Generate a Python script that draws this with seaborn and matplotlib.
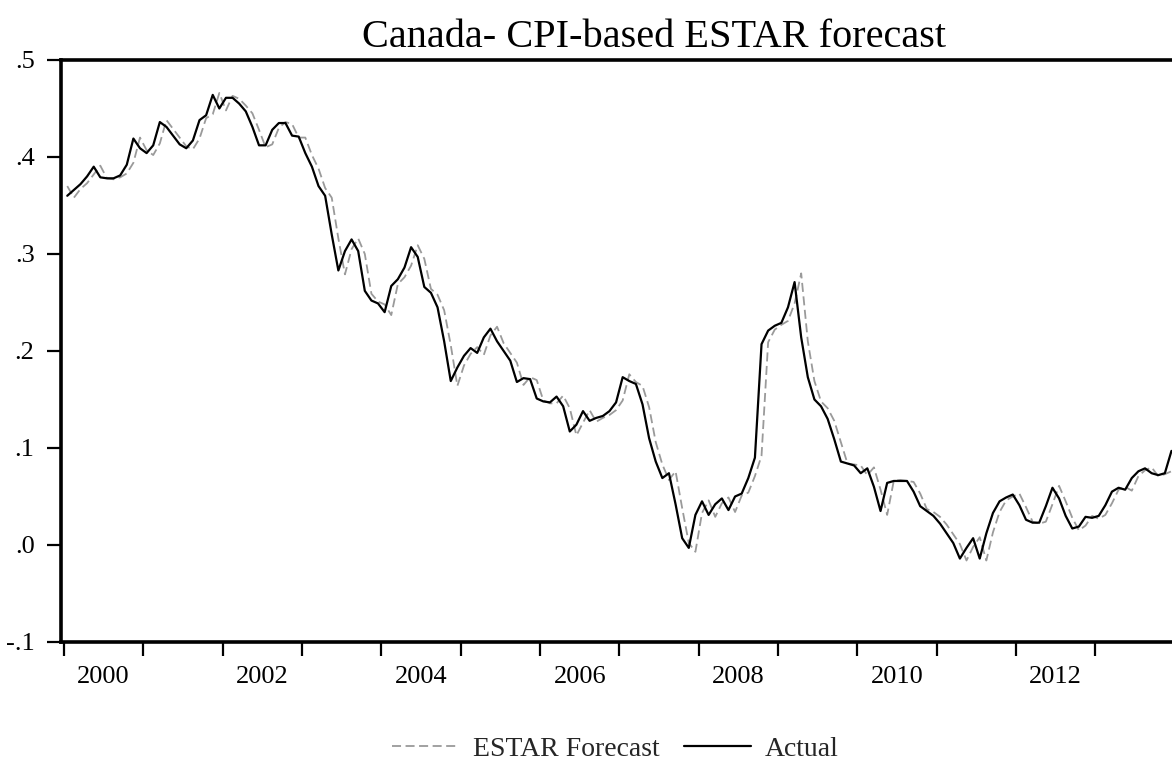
import numpy as np
import pandas as pd
import matplotlib
matplotlib.use("Agg")
import matplotlib.pyplot as plt
import seaborn as sns
from matplotlib.lines import Line2D

# Monthly values, Jan 2000 - Dec 2013
actual = [
    .360, .366, .372, .380, .390, .379, .378, .378, .381, .392, .419, .409,
    .404, .412, .436, .431, .422, .413, .409, .417, .438, .443, .464, .450,
    .461, .461, .455, .447, .431, .412, .412, .428, .435, .435, .422, .421,
    .404, .390, .370, .360, .320, .283, .303, .315, .303, .262, .252, .249,
    .240, .267, .274, .286, .307, .297, .266, .260, .245, .210, .169, .183,
    .195, .203, .198, .214, .223, .210, .200, .190, .168, .172, .171, .151,
    .148, .147, .153, .143, .117, .124, .138, .128, .131, .133, .138, .147,
    .173, .169, .166, .145, .110, .086, .069, .074, .042, .007, -.003, .031,
    .045, .031, .042, .048, .036, .050, .053, .069, .090, .207, .221, .226,
    .229, .245, .271, .214, .173, .150, .143, .130, .109, .086, .084, .082,
    .074, .079, .060, .035, .064, .066, .066, .066, .055, .040, .035, .030,
    .022, .012, .002, -.014, -.003, .007, -.014, .012, .033, .045, .049, .052,
    .041, .026, .023, .023, .040, .059, .048, .030, .017, .019, .029, .028,
    .030, .041, .055, .059, .057, .069, .076, .079, .074, .072, .074, .097,
]

estar_forecast = [
    .370, .358, .367, .373, .382, .391, .378, .377, .379, .383, .394, .420,
    .407, .402, .414, .438, .429, .420, .411, .408, .419, .440, .444, .466,
    .448, .463, .460, .453, .445, .428, .410, .413, .430, .436, .434, .420,
    .420, .402, .388, .368, .358, .316, .279, .305, .316, .300, .259, .251,
    .248, .237, .269, .276, .288, .309, .295, .264, .258, .242, .206, .164,
    .185, .197, .204, .196, .216, .225, .208, .198, .188, .165, .173, .170,
    .149, .146, .146, .154, .141, .113, .126, .139, .127, .131, .134, .139,
    .149, .176, .168, .164, .142, .106, .083, .067, .076, .038, .002, -.007,
    .033, .046, .029, .043, .049, .034, .051, .054, .071, .092, .209, .222,
    .227, .231, .249, .280, .210, .169, .148, .141, .128, .106, .084, .083,
    .082, .072, .080, .057, .031, .066, .067, .066, .065, .053, .037, .034,
    .029, .021, .011, .001, -.016, -.002, .008, -.016, .013, .034, .046, .050,
    .053, .039, .024, .022, .024, .042, .061, .045, .028, .015, .020, .030,
    .027, .031, .043, .057, .060, .056, .071, .077, .080, .071, .073, .076,
]

start_year = 2000
year_labels = ["2000", "2002", "2004", "2006", "2008", "2010", "2012"]
y_ticks = [-0.1, 0.0, 0.1, 0.2, 0.3, 0.4, 0.5]
y_tick_labels = ["-.1", ".0", ".1", ".2", ".3", ".4", ".5"]
title = "Canada- CPI-based ESTAR forecast"

sns.set_theme(style="white")
plt.rcParams["font.family"] = ["Liberation Serif", "DejaVu Serif"]

n = len(actual)
t = start_year + (np.arange(n) + 0.5) / 12.0
df = pd.DataFrame({"t": t, "actual": actual, "forecast": estar_forecast})

fig = plt.figure(figsize=(11.72, 7.63), dpi=100)
ax = fig.add_axes([0.052, 0.1586, 0.948, 0.7628])

sns.lineplot(data=df, x="t", y="forecast", ax=ax, color="#9a9a9a",
             linewidth=1.3, linestyle=(0, (5, 2.5)))
sns.lineplot(data=df, x="t", y="actual", ax=ax, color="black", linewidth=1.6)

ax.set_xlim(1999.962, 2013.965)
ax.set_ylim(-0.1, 0.5)
ax.set_xlabel("")
ax.set_ylabel("")

# year boundaries as tick marks, labels centred under every other year
ax.set_xticks(np.arange(2000, 2014))
ax.set_xticklabels([])
ax.set_xticks([int(y) + 0.5 for y in year_labels], minor=True)
ax.set_xticklabels(year_labels, minor=True)
ax.tick_params(axis="x", which="major", direction="out", length=10, width=1.6,
               color="black", bottom=True)
ax.tick_params(axis="x", which="minor", length=0, pad=17, labelsize=19,
               labelcolor="black", bottom=True)

ax.set_yticks(y_ticks)
ax.set_yticklabels(y_tick_labels)
ax.tick_params(axis="y", direction="out", length=10, width=1.6, pad=9,
               labelsize=19, color="black", labelcolor="black", left=True)

for side in ["left", "bottom", "top"]:
    ax.spines[side].set_visible(True)
    ax.spines[side].set_color("black")
    ax.spines[side].set_linewidth(2.6)
ax.spines["right"].set_visible(False)

fig.text(0.558, 0.9384, title, ha="center", va="baseline", fontsize=29,
         color="black")

handles = [
    Line2D([], [], color="#9a9a9a", linewidth=1.3, linestyle=(0, (5, 2.5))),
    Line2D([], [], color="black", linewidth=1.6),
]
fig.legend(handles, ["ESTAR Forecast", "Actual"], loc="center",
           bbox_to_anchor=(0.525, 0.018), ncol=2, frameon=False, fontsize=20,
           handlelength=2.4, handletextpad=0.5, columnspacing=0.9)

fig.savefig("out.png", dpi=100)
